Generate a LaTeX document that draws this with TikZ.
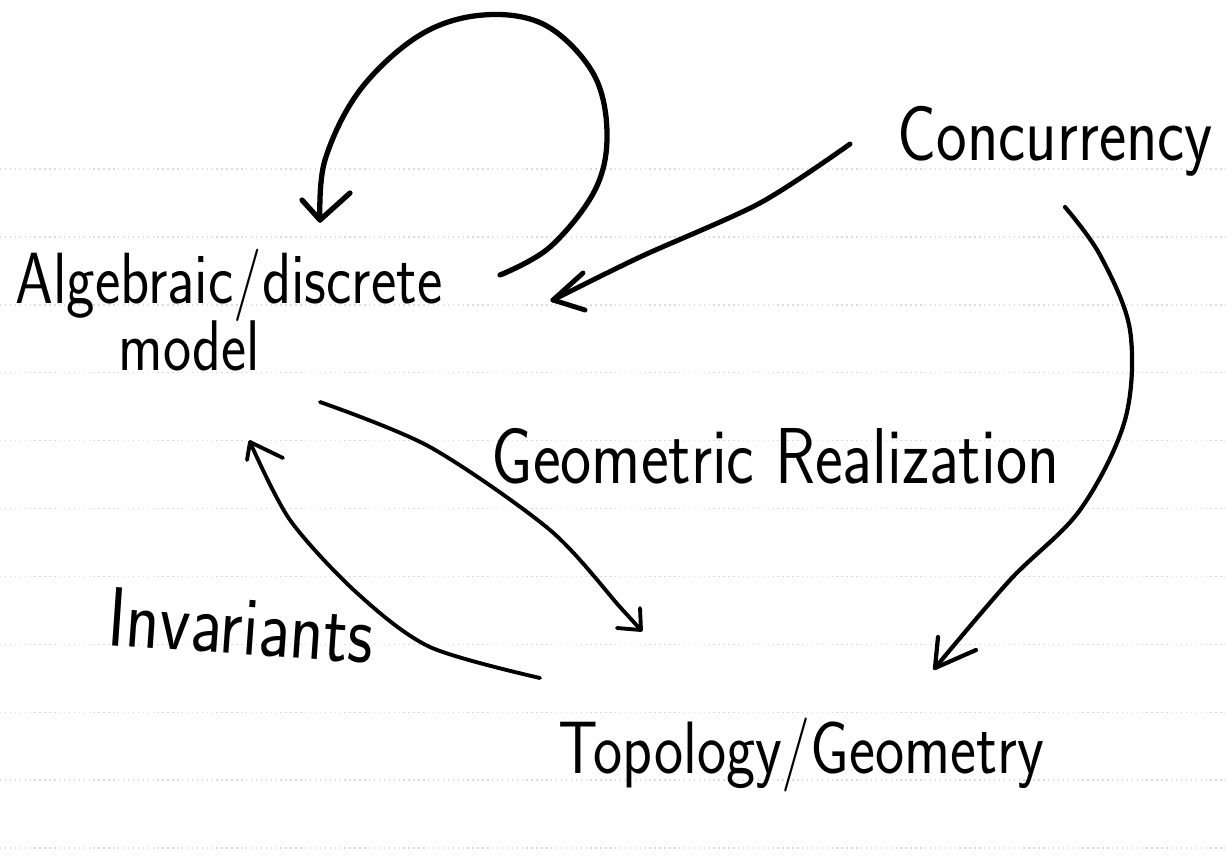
\documentclass[tikz,border=0pt]{standalone}
\usepackage{tikz}
\usetikzlibrary{calc}
\newcommand{\tall}[1]{\scalebox{1}[1.2]{#1}}
\tikzset{
	hand/.style={inner sep=0pt, anchor=base west, font=\sffamily\fontsize{#1}{#1}\selectfont},
	hand/.default=18,
	inkline/.style={line width=#1, line cap=round, line join=round},
	rule/.style={black!14, line width=0.4pt, densely dotted},
}
\begin{document}
\begin{tikzpicture}
			%%%%% START %%%%%
			\useasboundingbox (0, 0) rectangle (12.26, -8.59);
			
			% ruled paper
			\foreach \k in {0,...,10}
				\draw[rule] (0, {-1.69-0.679*\k}) -- (12.26, {-1.69-0.679*\k});
			
			\node[hand=17.2] (alg) at (0.15, -3.03) {\tall{Algebraic/discrete}};
			\node[hand=17] (model) at (1.18, -3.70) {\tall{model}};
			\node[hand=18.5] (conc) at (8.97, -1.60) {\tall{Concurrency}};
			\node[hand=18.8] (geo) at (4.91, -4.83) {\tall{Geometric Realization}};
			\node[hand=20, rotate=-4] (inv) at (1.06, -6.45) {\tall{Invariants}};
			\node[hand=17.6] (topo) at (5.58, -7.73) {\tall{Topology/Geometry}};
			
			\coordinate (loopS) at (5.00, -2.75);
			\coordinate (loopT) at (3.20, -2.20);
			\coordinate (concS) at (8.50, -1.44);
			\coordinate (concT) at (5.53, -3.00);
			\coordinate (geoS) at (3.20, -4.02);
			\coordinate (geoT) at (6.41, -6.30);
			\coordinate (invS) at (5.40, -6.78);
			\coordinate (invT) at (2.50, -4.42);
			\coordinate (rightS) at (10.65, -2.07);
			\coordinate (rightT) at (9.35, -6.68);
			
			% loop on the model
			\draw[inkline=1.5pt] plot[smooth, tension=0.6] coordinates {(loopS) (5.50, -2.47) (5.95, -1.90) (6.07, -1.33) (5.93, -0.73) (5.45, -0.25) (4.83, -0.15) (4.20, -0.35) (3.60, -0.90) (3.25, -1.60) (loopT)};
			\draw[inkline=1.5pt] (loopT) -- ++(-0.18, 0.20) (loopT) -- ++(0.30, 0.27);
			
			% concurrency -> model
			\draw[inkline=1.4pt] plot[smooth, tension=0.5] coordinates {(concS) (7.60, -2.03) (6.40, -2.57) (concT)};
			\draw[inkline=1.4pt] (concT) -- ++(0.30, 0.27) (concT) -- ++(0.32, -0.10);
			
			% geometric realization
			\draw[inkline=1.1pt] plot[smooth, tension=0.5] coordinates {(geoS) (4.30, -4.47) (5.50, -5.30) (6.20, -6.07) (geoT)};
			\draw[inkline=1.1pt] (geoT) -- ++(-0.24, 0.02) (geoT) -- ++(-0.01, 0.22);
			
			% invariants
			\draw[inkline=1.1pt] plot[smooth, tension=0.5] coordinates {(invS) (4.30, -6.47) (3.57, -5.93) (2.90, -5.20) (invT)};
			\draw[inkline=1.1pt] (invT) -- ++(-0.03, -0.18) (invT) -- ++(0.33, -0.16);
			
			% concurrency -> topology
			\draw[inkline=1.2pt] plot[smooth, tension=0.55] coordinates {(rightS) (11.00, -2.55) (11.30, -3.30) (11.25, -4.20) (10.80, -5.10) (10.10, -5.80) (rightT)};
			\draw[inkline=1.2pt] (rightT) -- ++(0.03, 0.31) (rightT) -- ++(0.41, 0.18);
			
			%%%%% END %%%%%
\end{tikzpicture}
\end{document}
